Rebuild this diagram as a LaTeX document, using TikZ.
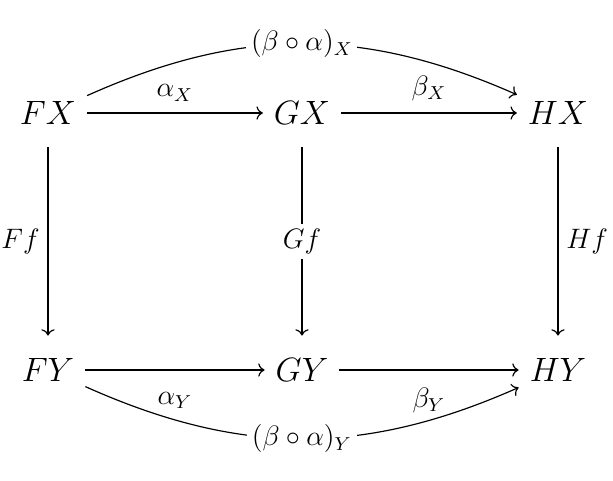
\documentclass[tikz,border=0pt]{standalone}
\usepackage{tikz}
\usetikzlibrary{arrows.meta}
\tikzset{
    object/.style={
        font=\Large,
        inner xsep=4.5pt,inner ysep=9.5pt
    },
    map label/.style={font=\large},
    on arrow/.style={map label,fill=white,inner sep=2pt},
    every path/.style={line width=0.5pt},
    >={To}
}
\begin{document}
\begin{tikzpicture}
\useasboundingbox (-0.72,1.695) rectangle (8.475,-5.52);
\foreach \x/\fun in {0/F,3.81/G,7.65/H} {
    \node[object] (\fun X) at (\x,0) {$\fun X$};
    \node[object] (\fun Y) at (\x,-3.855) {$\fun Y$};
}
\draw[->] (FX) -- node[map label,above=1.5pt] {$\alpha_X$} (GX);
\draw[->] (GX) -- node[map label,above=1.5pt] {$\beta_X$} (HX);
\draw[->] (FY) -- node[map label,below=6pt] {$\alpha_Y$} (GY);
\draw[->] (GY) -- node[map label,below=4pt] {$\beta_Y$} (HY);
\draw[->] (FX) -- node[map label,left] {$Ff$} (FY);
\draw[->] (GX) -- node[on arrow] {$Gf$} (GY);
\draw[->] (HX) -- node[map label,right] {$Hf$} (HY);
\draw[->] (FX) to[bend left=24] node[on arrow] {$(\beta\circ\alpha)_X$} (HX);
\draw[->] (FY) to[bend right=24] node[on arrow] {$(\beta\circ\alpha)_Y$} (HY);
\end{tikzpicture}
\end{document}
